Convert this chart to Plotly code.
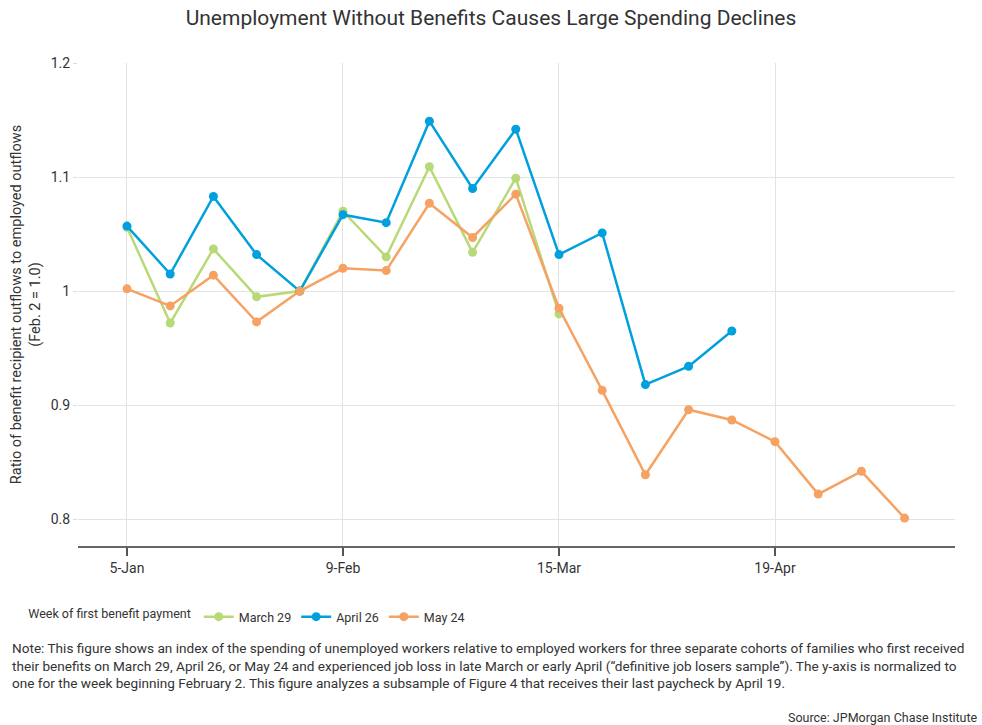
import plotly.graph_objects as go

weeks = ["2020-01-05", "2020-01-12", "2020-01-19", "2020-01-26", "2020-02-02",
         "2020-02-09", "2020-02-16", "2020-02-23", "2020-03-01", "2020-03-08",
         "2020-03-15", "2020-03-22", "2020-03-29", "2020-04-05", "2020-04-12",
         "2020-04-19", "2020-04-26", "2020-05-03", "2020-05-10"]

march29 = [1.056, 0.972, 1.037, 0.995, 1.000, 1.070, 1.030, 1.109, 1.034, 1.099, 0.980]
april26 = [1.057, 1.015, 1.083, 1.032, 1.000, 1.067, 1.060, 1.149, 1.090, 1.142,
           1.032, 1.051, 0.918, 0.934, 0.965]
may24 = [1.002, 0.987, 1.014, 0.973, 1.000, 1.020, 1.018, 1.077, 1.047, 1.085,
         0.985, 0.913, 0.839, 0.896, 0.887, 0.868, 0.822, 0.842, 0.801]

tick_dates = ["2020-01-05", "2020-02-09", "2020-03-15", "2020-04-19"]
tick_labels = ["5-Jan", "9-Feb", "15-Mar", "19-Apr"]
y_ticks = [0.8, 0.9, 1.0, 1.1, 1.2]
y_tick_labels = ["0.8", "0.9", "1", "1.1", "1.2"]

note_lines = [
    "Note: This figure shows an index of the spending of unemployed workers relative to employed workers for three separate cohorts of families who first received",
    "their benefits on March 29, April 26, or May 24 and experienced job loss in late March or early April (\u201cdefinitive job losers sample\u201d). The y-axis is normalized to",
    "one for the week beginning February 2. This figure analyzes a subsample of Figure 4 that receives their last paycheck by April 19.",
]

series = [
    ("March 29", march29, "#b8d977"),
    ("April 26", april26, "#00a0de"),
    ("May 24", may24, "#f5a263"),
]

fig = go.Figure()
for name, vals, color in series:
    fig.add_trace(go.Scatter(
        x=weeks[:len(vals)], y=vals, name=name, mode="lines+markers",
        line=dict(color=color, width=2.5),
        marker=dict(color=color, size=9),
    ))

font_main = "Roboto, Liberation Sans, sans-serif"
font_narrow = "Liberation Sans Narrow, Roboto, sans-serif"

fig.update_layout(
    width=982, height=725,
    paper_bgcolor="white", plot_bgcolor="white",
    margin=dict(l=78, r=27, t=63, b=179),
    font=dict(family=font_main, color="#333333", size=13),
    title=dict(text="Unemployment Without Benefits Causes Large Spending Declines",
               x=0.5, xanchor="center", y=0.975, yanchor="middle",
               font=dict(size=21, color="#333333", family=font_main)),
    showlegend=True,
    legend=dict(orientation="h", x=-0.059, xanchor="left", y=-0.147, yanchor="middle",
                title=dict(text="Week of first benefit payment", side="left",
                           font=dict(size=12.5, color="#333333", family=font_narrow)),
                font=dict(size=12.5, color="#333333", family=font_narrow),
                itemwidth=30, tracegroupgap=0),
    xaxis=dict(
        type="date",
        range=["2019-12-28 01:30", "2020-05-18 04:00"],
        tickvals=tick_dates, ticktext=tick_labels,
        showgrid=True, gridcolor="#e3e3e3", gridwidth=1,
        showline=True, linecolor="#666666", linewidth=1.5,
        ticks="outside", ticklen=8, tickcolor="#555555", tickwidth=1.5,
        tickfont=dict(size=14, color="#333333"),
        zeroline=False,
    ),
    yaxis=dict(
        range=[0.7765, 1.2],
        tickvals=y_ticks, ticktext=y_tick_labels,
        showgrid=True, gridcolor="#e3e3e3", gridwidth=1,
        showline=False, zeroline=False,
        ticks="outside", ticklen=4, tickcolor="#dddddd",
        tickfont=dict(size=14, color="#333333"),
        title=dict(text="Ratio of benefit recipient outflows to employed outflows<br>(Feb. 2 = 1.0)",
                   font=dict(size=14.5, color="#333333"), standoff=6),
    ),
)

# plot area spans 483 px vertically (y=63..546)
for i, line in enumerate(note_lines):
    ypx = 648 + i * 17.5
    fig.add_annotation(text=line, xref="paper", yref="paper", x=-0.077,
                       y=(546 - ypx) / 483.0,
                       xanchor="left", yanchor="middle", align="left", showarrow=False,
                       font=dict(size=13.6, color="#333333", family=font_narrow))
fig.add_annotation(text="Source: JPMorgan Chase Institute", xref="paper", yref="paper",
                   x=1.029, y=-0.356, xanchor="right", yanchor="middle", showarrow=False,
                   font=dict(size=12.5, color="#333333", family=font_narrow))

fig.write_html("out.html")
